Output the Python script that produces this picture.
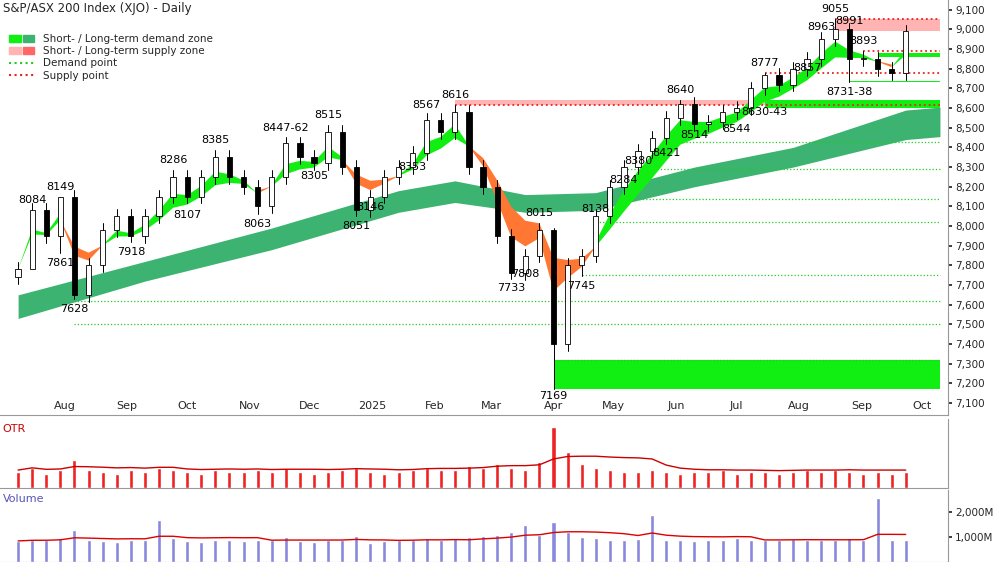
import numpy as np, pandas as pd, matplotlib
matplotlib.use("Agg")
import matplotlib.pyplot as plt, seaborn as sns
from matplotlib.patches import Patch, Rectangle
from matplotlib.lines import Line2D
from matplotlib.legend_handler import HandlerTuple
import matplotlib.dates as mdates

closes = [7780,8084,7950,8149,7650,7800,7980,8050,7950,8050,8150,8250,8150,8250,8350,8250,
          8200,8100,8250,8420,8350,8320,8480,8300,8080,8150,8250,8300,8370,8540,8480,8580,
          8300,8200,7950,7760,7850,7980,7400,7800,7850,8050,8200,8300,8380,8450,8550,8620,
          8520,8530,8580,8600,8700,8770,8720,8800,8850,8950,9000,8850,8850,8800,8780,8990]
low_over = {1:7990,3:7861,4:7628,8:7918,17:8063,24:8051,35:7733,38:7169,40:7745,51:8544,59:8731}
high_over = {3:8149,31:8616,38:7990,47:8640,53:8777,58:9055,60:8893}
otr = [8,10,7,9,14,9,8,7,9,8,10,9,8,7,9,8,8,9,8,10,8,7,8,9,10,8,7,8,9,10,9,9,
       11,10,12,10,9,13,30,18,12,10,9,8,8,9,8,7,8,8,9,7,8,8,7,8,9,8,9,8,7,8,7,8]
volume = [850,900,880,950,1300,900,850,820,900,880,1700,950,850,820,900,870,860,900,880,
          1000,850,820,900,880,1050,760,850,870,900,950,880,960,1000,1050,1100,1200,1500,
          1100,1600,1200,1000,950,900,880,920,1900,900,880,860,900,880,950,870,880,900,
          920,900,880,870,950,900,2600,900,880]
long_idx = [0,9,18,27,31,36,41,48,55,63]
long_lo = [7530,7720,7880,8070,8120,8070,8080,8200,8300,8440]
long_hi = [7650,7820,7990,8180,8230,8160,8170,8300,8400,8590]
labels = [(1,8084,'a'),(3,7861,'b'),(3,8149,'a'),(4,7628,'b'),(8,7918,'b'),(11,8286,'a'),
          (12,8107,'b'),(14,8385,'a'),(17,8063,'b'),(19,8447,'a','8447-62'),(21,8305,'b'),
          (22,8515,'a'),(24,8051,'b'),(25,8146,'b'),(28,8353,'b'),(29,8567,'a'),(31,8616,'a'),
          (35,7733,'b'),(36,7808,'b'),(37,8015,'a'),(38,7169,'b'),(40,7745,'b'),(41,8138,'b'),
          (43,8284,'b'),(44,8380,'b'),(46,8421,'b'),(47,8640,'a'),(48,8514,'b'),(51,8544,'b'),
          (53,8777,'a'),(53,8630,'b','8630-43'),(56,8857,'b'),(57,8963,'a'),(58,9055,'a'),
          (59,8991,'a'),(60,8893,'a'),(59,8731,'b','8731-38')]
demand_lines = [(38,7320),(4,7500),(4,7620),(40,7750),(41,8020),(41,8140),(43,8290),(46,8430)]
supply_lines = [(31,8616),(53,8777),(60,8893),(58,9055)]

dates = pd.date_range('2024-07-19', periods=len(closes), freq='W-FRI') + pd.Timedelta(days=4)
sns.set_theme(style="white")
plt.rcParams['font.family'] = ['DejaVu Sans']
fig = plt.figure(figsize=(10,5.62), dpi=100)
ax = fig.add_axes([0.0,0.262,0.948,0.738])
ao = fig.add_axes([0.0,0.132,0.948,0.122], sharex=ax)
av = fig.add_axes([0.0,0.0,0.948,0.128], sharex=ax)
end = pd.Timestamp('2025-10-24')

ld = list(dates[long_idx]) + [end]
ax.fill_between(ld, long_lo+[long_lo[-1]+15], long_hi+[long_hi[-1]+15], color='#3cb371', lw=0, zorder=1)
s = pd.Series(closes, index=dates)
f = s.ewm(span=3).mean(); sl = s.ewm(span=6).mean()
lo = np.minimum(f, sl); hi = np.maximum(f, sl)
ax.fill_between(dates, lo, hi, where=(f>=sl).values, color='#11ee11', lw=0, interpolate=True, zorder=2)
ax.fill_between(dates, lo, hi, where=(f<sl).values, color='#ff7733', lw=0, interpolate=True, zorder=2)

ax.fill_between([dates[38], end], 7169, 7320, color='#11ee11', lw=0, zorder=1)
ax.fill_between([dates[31], end], 8616, 8640, color='#ffb3b3', lw=0, zorder=1)
ax.fill_between([dates[58], end], 8991, 9055, color='#ffb3b3', lw=0, zorder=1)
ax.fill_between([dates[53], end], 8600, 8640, color='#11ee11', lw=0, zorder=1)
ax.fill_between([dates[61], end], 8860, 8880, color='#11ee11', lw=0, zorder=1)
ax.fill_between([dates[59], end], 8731, 8740, color='#11ee11', lw=0, zorder=1)
for i,v in demand_lines:
    ax.plot([dates[i], end], [v,v], ls=':', color='#22cc22', lw=0.9, zorder=1)
for i,v in supply_lines:
    ax.plot([dates[i], end], [v,v], ls=':', color='#ee2222', lw=1.3, zorder=1)

prev = closes[0]-40
for i,(d,c) in enumerate(zip(dates, closes)):
    o = prev
    h = high_over.get(i, max(o,c)+35); l = low_over.get(i, min(o,c)-35)
    ax.plot([d,d],[l,h], color='black', lw=0.7, zorder=4)
    ax.add_patch(Rectangle((mdates.date2num(d)-1.3, min(o,c)), 2.6, max(abs(c-o),6),
                 facecolor='white' if c>=o else 'black', edgecolor='black', lw=0.6, zorder=5))
    prev = c
for lab in labels:
    i,v,pos = lab[:3]; t = lab[3] if len(lab)>3 else str(v)
    off = 25 if pos=='a' else (-8 if v < 7200 else -25)
    ax.text(dates[i], v+off, t, ha='center', va='bottom' if pos=='a' else 'top',
            fontsize=8, color='black', zorder=6)

ax.set_ylim(7040, 9150); ax.set_xlim(pd.Timestamp('2024-07-14'), pd.Timestamp('2025-10-28'))
ax.yaxis.tick_right(); ax.set_yticks(range(7100,9101,100))
ax.set_yticklabels([f'{v:,}' for v in range(7100,9101,100)], fontsize=7.5)
months = pd.date_range('2024-08-01', '2025-10-15', freq='MS') + pd.Timedelta(days=14)
ax.set_xticks(months)
ax.set_xticklabels(['2025' if m.month==1 else m.strftime('%b') for m in months], fontsize=8)
ax.tick_params(axis='x', pad=-10, length=0); ax.tick_params(axis='y', length=3, right=True, pad=2)
ax.text(0.003, 0.995, 'S&P/ASX 200 Index (XJO) - Daily', transform=ax.transAxes, va='top', fontsize=8.5)
h = [(Patch(color='#11ee11'),Patch(color='#3cb371')),(Patch(color='#ffb3b3'),Patch(color='#ff6666')),
     Line2D([],[],ls=':',color='#22cc22',lw=1.5), Line2D([],[],ls=':',color='#ee2222',lw=1.5)]
ax.legend(h, ['Short- / Long-term demand zone','Short- / Long-term supply zone','Demand point','Supply point'],
          handler_map={tuple: HandlerTuple(ndivide=None, pad=0.2)}, loc='upper left', bbox_to_anchor=(0,0.94),
          frameon=False, fontsize=7.5, handlelength=2.4, labelspacing=0.2)

ao.bar(dates, otr, width=2, color='#ee2222')
sns.lineplot(x=dates, y=pd.Series(otr).rolling(8, min_periods=1).mean().values*1.1, ax=ao, color='#cc0000', lw=1)
ao.set_ylim(0, 34); ao.set_yticks([])
ao.text(0.003, 0.93, 'OTR', transform=ao.transAxes, va='top', fontsize=8, color='#cc0000')
av.bar(dates, volume, width=2, color='#8888dd')
sns.lineplot(x=dates, y=pd.Series(volume).rolling(8, min_periods=1).mean().values, ax=av, color='#dd0000', lw=1)
av.set_ylim(0, 2900); av.yaxis.tick_right(); av.set_yticks([1000,2000])
av.set_yticklabels(['1,000M','2,000M'], fontsize=7.5); av.tick_params(axis='y', length=3, pad=2)
av.text(0.003, 0.95, 'Volume', transform=av.transAxes, va='top', fontsize=8, color='#5555bb')
for a in (ao, av):
    a.tick_params(axis='x', labelbottom=False, length=0)
for a in (ax, ao, av):
    for sp in a.spines.values(): sp.set_color('#999999'); sp.set_linewidth(0.8)
    a.spines['top'].set_visible(False); a.spines['left'].set_visible(False)
    a.set_xlabel(''); a.set_ylabel('')
fig.savefig('out.png', dpi=100)
